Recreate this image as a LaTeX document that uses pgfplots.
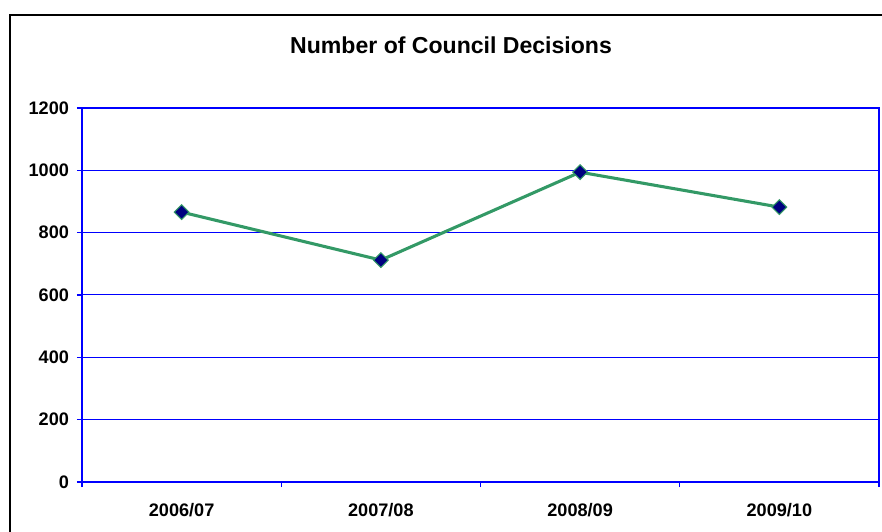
\documentclass[border=0pt]{standalone}
\usepackage{pgfplots}
\pgfplotsset{compat=1.18}
\usepackage{fontspec}
\setmainfont{Liberation Sans}
\definecolor{linegreen}{RGB}{51,153,102}
\definecolor{navy}{RGB}{0,0,128}
\definecolor{gridblue}{RGB}{0,0,255}
\begin{document}
\begin{tikzpicture}
\useasboundingbox (0,0) rectangle (661.5pt,399pt);
\clip (0,0) rectangle (661.5pt,399pt);
\draw[line width=1.1pt, black] (7.5pt,-20pt) rectangle (700pt,387.75pt);
\node[font=\fontsize{17.3pt}{20pt}\selectfont\bfseries, anchor=center, inner sep=0pt] at (338.3pt,364.9pt) {Number of Council Decisions};
\begin{axis}[
  at={(61.5pt,37.5pt)}, anchor=south west,
  scale only axis, width=597.75pt, height=280.5pt,
  xmin=0, xmax=4, ymin=0, ymax=1200,
  xtick={0.5,1.5,2.5,3.5},
  xticklabels={2006/07,2007/08,2008/09,2009/10},
  minor xtick={0,1,2,3,4},
  ytick={0,200,400,600,800,1000,1200},
  major x tick style={draw=none},
  tick align=outside,
  major tick length=3.75pt, minor tick length=3.75pt,
  tick style={gridblue, line width=0.9pt},
  xtick pos=bottom, ytick pos=left,
  ymajorgrids,
  major grid style={gridblue, line width=0.75pt},
  axis line style={gridblue, line width=1.3pt},
  tick label style={font=\fontsize{13.6pt}{16pt}\selectfont\bfseries},
  /pgf/number format/assume math mode=true,
  /pgf/number format/set thousands separator={},
  yticklabel style={xshift=-2.5pt},
  xticklabel style={anchor=center, yshift=-17pt},
  clip=false,
]
\addplot[linegreen, line width=2.3pt, mark=square*, mark size=3.9pt,
  mark options={rotate=45, fill=navy, draw=linegreen, line width=0.8pt}]
  coordinates {(0.5,866) (1.5,712) (2.5,994) (3.5,882)};
\end{axis}
\end{tikzpicture}
\end{document}
